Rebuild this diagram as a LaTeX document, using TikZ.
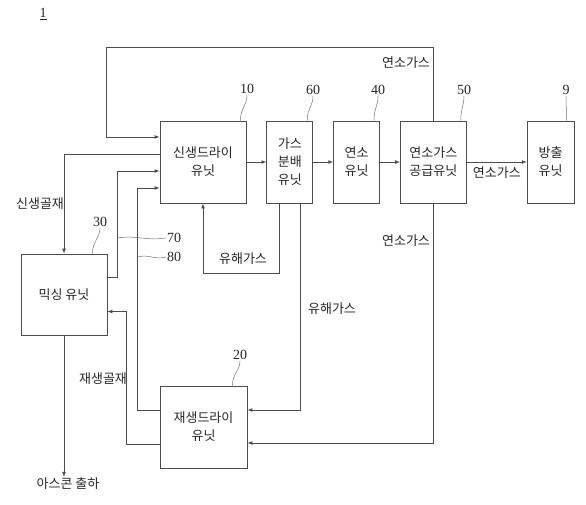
\documentclass[tikz,border=0pt]{standalone}
\usepackage{fontspec}
\setmainfont{Liberation Serif}
\newfontfamily\krfont{Noto Sans CJK KR}
\usepackage{tikz}
\usetikzlibrary{positioning}

\begin{document}
\begin{tikzpicture}[
        x=1pt, y=-1pt,
        node distance=20pt,
        box/.style={rectangle, draw=black!70, line width=0.8pt, minimum height=82pt, align=center, inner sep=2pt, text=black!85, font=\krfont\fontsize{13}{18}\selectfont},
        arrow/.style={-latex, line width=0.7pt, color=black!70},
        leader/.style={line width=0.5pt, color=black!55},
        lbl/.style={inner sep=1pt, text=black!85, font=\krfont\fontsize{13}{17}\selectfont},
        num/.style={inner sep=1pt, text=black!85, font=\fontsize{14}{16}\selectfont}
    ]

        \useasboundingbox (0,0) rectangle (586,505);

        % main row
        \node[box, minimum width=86pt] (newdry) at (203,162) {신생드라이\\유닛};
        \node[box, minimum width=46pt, right=of newdry] (gasdist) {가스\\분배\\유닛};
        \node[box, minimum width=46pt, right=of gasdist] (burner) {연소\\유닛};
        \node[box, minimum width=66pt, right=of burner] (gassupply) {연소가스\\공급유닛};
        \node[box, minimum width=47pt, right=60pt of gassupply] (discharge) {방출\\유닛};

        % lower units
        \node[box, minimum width=86pt, minimum height=81pt] (mixer) at (64,294.5) {믹싱 유닛};
        \node[box, minimum width=87pt] (regendry) at (203.5,427) {재생드라이\\유닛};

        \coordinate (topleft) at (106,47);
        \node[lbl] (ascon) at (68,484) {아스콘 출하};

        % main flow
        \draw[arrow] (newdry) -- (gasdist);
        \draw[arrow] (gasdist) -- (burner);
        \draw[arrow] (burner) -- (gassupply);
        \draw[arrow] (gassupply) -- node[lbl, below=3pt] (fuelout) {연소가스} (discharge);

        % combustion gas returns
        \draw[arrow] (gassupply.north) |- (topleft) |- ([yshift=25pt]newdry.west);
        \draw[arrow] (gassupply.south) |- ([yshift=-16pt]regendry.east);
        \node[lbl] (fueltop) at (406,63) {연소가스};
        \node[lbl] (fuelbot) at (406,241) {연소가스};

        % harmful gas
        \draw[arrow] ([xshift=-10pt]gasdist.south) -- ++(0,70) -| (newdry.south);
        \draw[arrow] ([xshift=11pt]gasdist.south) |- ([yshift=17pt]regendry.east);
        \node[lbl] (harm1) at (243,259) {유해가스};
        \node[lbl] (harm2) at (332,309) {유해가스};

        % aggregates
        \draw[arrow] ([yshift=8pt]newdry.west) -| (mixer.north);
        \draw[arrow] ([yshift=17pt]mixer.east) -- ++(10,0) coordinate (l70) |- ([yshift=-9pt]newdry.west);
        \draw[arrow] ([yshift=17pt]regendry.west) -- ++(-22,0) coordinate (l80) |- ([yshift=-26pt]newdry.west);
        \draw[arrow] ([yshift=-17pt]regendry.west) -- ++(-33,0) |- ([yshift=-17pt]mixer.east);
        \draw[arrow] (mixer.south) -- (mixer.south |- ascon.north);
        \node[lbl] (newagg) at (40,204) {신생골재};
        \node[lbl] (regagg) at (103,379) {재생골재};

        % reference numerals
        \node[num] (fig) at (43,14) {\underline{1}};
        \node[num] (n10) at (247,89) {10};
        \node[num] (n60) at (313,90) {60};
        \node[num] (n40) at (378,90) {40};
        \node[num] (n50) at (464,90) {50};
        \node[num] (n9) at (566,90) {9};
        \node[num] (n30) at (100,222) {30};
        \node[num] (n20) at (240,355) {20};
        \node[num] (n70) at (174,238) {70};
        \node[num] (n80) at (174,257) {80};

        \draw[leader] ([xshift=-6pt]newdry.north east) .. controls +(0,-12) and +(0,10) .. (n10.south);
        \draw[leader] ([xshift=-6pt]gasdist.north east) .. controls +(0,-12) and +(0,10) .. (n60.south);
        \draw[leader] ([xshift=-6pt]burner.north east) .. controls +(0,-12) and +(0,10) .. (n40.south);
        \draw[leader] ([xshift=-6pt]gassupply.north east) .. controls +(0,-12) and +(0,10) .. (n50.south);
        \draw[leader] ([xshift=-8pt]discharge.north east) .. controls +(0,-12) and +(0,10) .. (n9.south);
        \draw[leader] ([xshift=-15pt]mixer.north east) .. controls +(0,-12) and +(0,10) .. (n30.south);
        \draw[leader] ([xshift=-15pt]regendry.north east) .. controls +(0,-12) and +(0,10) .. (n20.south);
        \draw[leader] (l70 |- n70) .. controls +(20,-3) and +(-20,3) .. (n70.west);
        \draw[leader] (l80 |- n80) .. controls +(12,-3) and +(-12,3) .. (n80.west);
    \end{tikzpicture}
\end{document}
